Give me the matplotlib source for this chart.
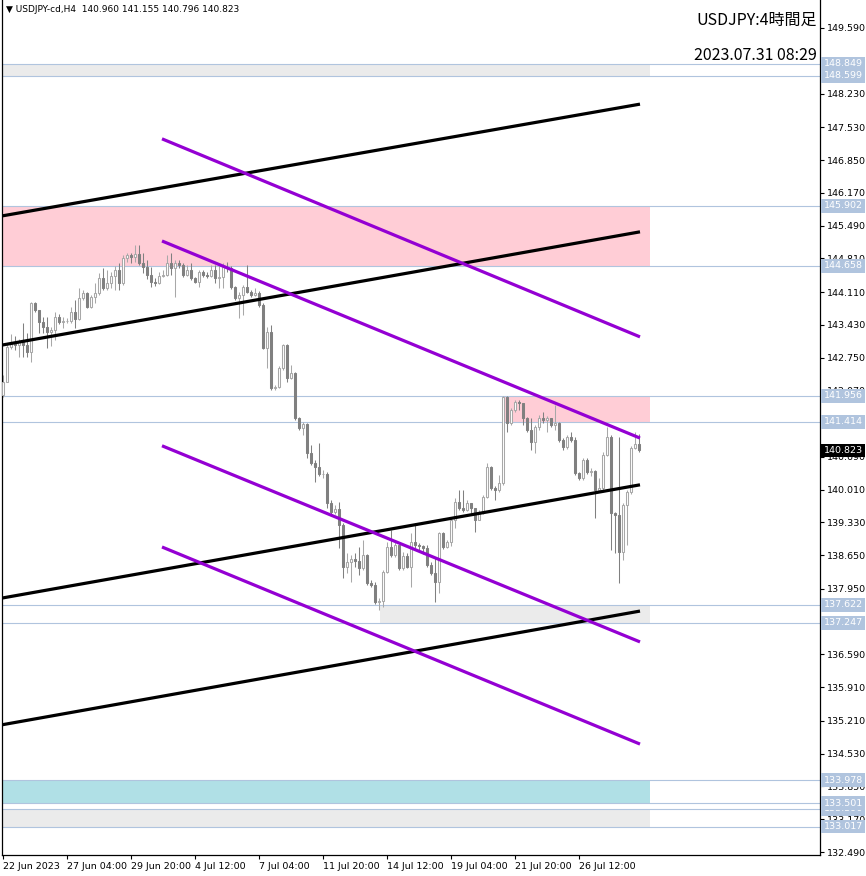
import matplotlib
matplotlib.use("Agg")
import matplotlib.pyplot as plt

# --- chart data (USDJPY H4) ---
header_text = "\u25bc USDJPY-cd,H4  140.960 141.155 140.796 140.823"
title_text = "USDJPY:4時間足"
stamp_text = "2023.07.31 08:29"

first_open = 141.97
closes = [142.24, 142.97, 143.07, 143.01, 143.07, 143.01, 142.87, 143.88, 143.74, 143.49,
          143.39, 143.28, 143.32, 143.59, 143.49, 143.51, 143.51, 143.70, 143.55, 143.99,
          144.09, 143.80, 144.01, 144.09, 144.40, 144.19, 144.30, 144.44, 144.57, 144.30,
          144.82, 144.88, 144.84, 144.90, 144.71, 144.63, 144.46, 144.32, 144.30, 144.44,
          144.46, 144.71, 144.61, 144.71, 144.67, 144.46, 144.57, 144.40, 144.32, 144.53,
          144.46, 144.44, 144.57, 144.40, 144.42, 144.63, 144.61, 144.22, 143.99, 144.05,
          144.22, 144.11, 144.05, 144.09, 143.84, 142.95, 143.28, 142.12, 142.14, 142.53,
          143.01, 142.33, 142.43, 141.50, 141.29, 141.37, 140.77, 140.56, 140.48, 140.34,
          140.34, 139.73, 139.55, 139.61, 139.28, 138.41, 138.51, 138.57, 138.53, 138.38,
          138.65, 138.07, 138.03, 137.68, 137.70, 138.30, 138.82, 138.65, 138.86, 138.38,
          138.63, 138.41, 138.92, 138.86, 138.84, 138.80, 138.45, 138.28, 138.09, 139.11,
          138.82, 138.92, 139.38, 139.75, 139.63, 139.59, 139.73, 139.63, 139.38, 139.55,
          139.86, 140.48, 140.04, 140.00, 140.15, 141.93, 141.39, 141.66, 141.83, 141.81,
          141.50, 141.25, 141.00, 141.31, 141.50, 141.46, 141.50, 141.35, 141.39, 141.04,
          140.90, 141.10, 141.04, 140.36, 140.25, 140.63, 140.38, 140.40, 140.00, 140.04,
          140.73, 141.10, 139.53, 139.48, 138.72, 139.69, 139.96, 140.87, 140.96, 140.823]
highs = [142.39, 143.05, 143.24, 143.20, 143.14, 143.47, 143.26, 143.90, 143.90, 143.70,
         143.59, 143.59, 143.39, 143.70, 143.66, 143.59, 143.57, 143.80, 143.95, 144.19,
         144.15, 144.11, 144.05, 144.30, 144.51, 144.61, 144.57, 144.53, 144.65, 144.71,
         144.88, 144.92, 144.92, 145.09, 145.09, 144.92, 144.78, 144.63, 144.40, 144.53,
         144.57, 144.88, 144.92, 144.78, 144.78, 144.71, 144.67, 144.71, 144.42, 144.57,
         144.57, 144.53, 144.67, 144.67, 144.67, 144.71, 144.73, 144.65, 144.24, 144.11,
         144.26, 144.67, 144.15, 144.19, 144.13, 143.88, 143.39, 143.43, 142.18, 142.58,
         143.03, 143.03, 142.60, 142.45, 141.52, 141.41, 141.39, 140.94, 140.63, 140.98,
         140.42, 140.38, 139.80, 139.69, 139.75, 139.32, 138.70, 138.65, 138.70, 138.82,
         138.97, 138.67, 138.14, 138.09, 137.76, 138.34, 138.92, 139.17, 138.97, 138.82,
         138.72, 138.70, 139.11, 139.32, 138.90, 138.86, 138.86, 138.51, 138.61, 139.13,
         139.13, 138.97, 139.42, 139.84, 140.00, 140.00, 139.80, 139.69, 139.59, 139.59,
         139.90, 140.56, 140.50, 140.09, 140.31, 141.95, 141.95, 141.70, 141.87, 141.87,
         141.77, 141.52, 141.50, 141.35, 141.56, 141.62, 141.54, 141.50, 141.77, 141.41,
         141.08, 141.14, 141.21, 141.10, 140.38, 140.67, 140.67, 140.45, 140.42, 140.25,
         140.79, 141.31, 141.14, 139.55, 141.10, 139.73, 140.00, 140.92, 141.21, 141.155]
lows = [141.93, 142.24, 142.93, 142.91, 142.76, 142.76, 142.76, 142.66, 143.70, 143.26,
        143.26, 142.95, 142.99, 143.12, 143.45, 143.36, 143.47, 143.47, 143.36, 143.53,
        143.95, 143.78, 143.78, 143.88, 144.05, 144.15, 144.15, 144.19, 144.15, 144.15,
        144.26, 144.73, 144.71, 144.73, 144.67, 144.51, 144.38, 144.22, 144.24, 144.28,
        144.42, 144.44, 144.46, 144.01, 144.61, 144.42, 144.44, 144.36, 144.30, 144.22,
        144.42, 144.40, 144.42, 144.30, 144.19, 144.19, 144.53, 144.17, 143.95, 143.57,
        143.63, 144.09, 144.01, 144.03, 143.80, 142.93, 142.53, 142.08, 142.08, 142.12,
        142.49, 142.24, 142.31, 141.46, 141.25, 141.14, 140.67, 140.52, 140.17, 140.29,
        140.25, 139.63, 139.51, 139.51, 138.80, 138.18, 138.28, 138.09, 138.41, 138.24,
        138.34, 138.03, 137.99, 137.64, 137.51, 137.58, 138.28, 138.61, 138.61, 138.34,
        138.34, 138.38, 137.99, 138.80, 138.72, 138.67, 138.41, 138.24, 137.68, 137.87,
        138.78, 138.80, 138.84, 139.21, 139.59, 139.55, 139.57, 139.53, 139.13, 139.38,
        139.51, 139.84, 140.00, 139.80, 139.96, 140.11, 141.21, 141.35, 141.62, 141.66,
        141.35, 141.21, 140.83, 140.77, 141.25, 141.39, 141.21, 141.31, 141.25, 141.00,
        140.83, 140.85, 141.00, 140.31, 140.21, 140.21, 140.34, 140.29, 139.42, 139.98,
        140.00, 140.71, 138.76, 138.70, 138.07, 138.55, 138.86, 139.92, 140.85, 140.796]
opens = [first_open] + closes[:-1]
bars = list(range(len(closes)))

x_tick_bars = [0, 16, 32, 48, 64, 80, 96, 112, 128, 144]
x_tick_labels = ["22 Jun 2023", "27 Jun 04:00", "29 Jun 20:00", "4 Jul 12:00", "7 Jul 04:00",
                 "11 Jul 20:00", "14 Jul 12:00", "19 Jul 04:00", "21 Jul 20:00", "26 Jul 12:00"]
# 148.910 and 137.270 sit fully under the level boxes, so they're left out
y_ticks = [149.59, 148.23, 147.53, 146.85, 146.17, 145.49, 144.81, 144.11, 143.43,
           142.75, 142.07, 141.39, 140.69, 140.01, 139.33, 138.65, 137.95, 136.59,
           135.91, 135.21, 134.53, 133.85, 133.17, 132.49]

# rectangles (zones)
zone_start = [-1, -1, 125, 94.25, -1, -1]
zone_end = 161.75
zone_top = [148.849, 145.902, 141.956, 137.622, 133.978, 133.390]
zone_bottom = [148.599, 144.658, 141.414, 137.247, 133.501, 133.017]
zone_colors = ["#ebebeb", "#ffcdd6", "#ffcdd6", "#ebebeb", "#b0e0e6", "#ebebeb"]

current_price = 140.823

# trend lines (bar index, price)
black_x = [-0.25, 159.25]
black_start = [145.69, 143.01, 137.76, 135.13]
black_end = [148.01, 145.36, 140.11, 137.49]
purple_x = [39.75, 159.25]
purple_start = [147.29, 145.17, 140.92, 138.82]
purple_end = [143.18, 141.08, 136.85, 134.73]

# --- figure ---
small_font = "DejaVu Sans"
fig = plt.figure(figsize=(8.66, 8.76), dpi=100)
ax = fig.add_axes([2 / 866, 21 / 876, 818 / 866, 855 / 876])
ax.set_xlim(-0.25, 204.25)
ax.set_ylim(132.428, 150.171)

for s, t, b, c in zip(zone_start, zone_top, zone_bottom, zone_colors):
    ax.fill_between([s, zone_end], [b, b], [t, t], color=c, lw=0, zorder=1)
for lvl in zone_top + zone_bottom:
    ax.axhline(lvl, color="#b0c4de", lw=0.8, zorder=1.5)

# candles
bull_col = "#a8a8a8"
bear_col = "#808080"
for i, o, h, l, c in zip(bars, opens, highs, lows, closes):
    col = bull_col if c >= o else bear_col
    ax.vlines(i, l, h, color=col, lw=0.75, zorder=2)
    face = "white" if c >= o else bear_col
    ax.bar(i, max(abs(c - o), 0.004), bottom=min(o, c), width=0.55,
           facecolor=face, edgecolor=col, linewidth=0.75, zorder=3)

for y0, y1 in zip(black_start, black_end):
    ax.plot(black_x, [y0, y1], color="black", lw=2.3, zorder=4, solid_capstyle="butt")
for y0, y1 in zip(purple_start, purple_end):
    ax.plot(purple_x, [y0, y1], color="#9400d3", lw=2.3, zorder=4, solid_capstyle="butt")

# axes styling
ax.spines["top"].set_visible(False)
for side in ["left", "bottom", "right"]:
    ax.spines[side].set_color("black")
    ax.spines[side].set_linewidth(0.9)
ax.yaxis.tick_right()
ax.set_yticks(y_ticks)
ax.set_yticklabels(["%.3f" % v for v in y_ticks])
ax.tick_params(axis="y", direction="out", length=3, width=0.8, pad=2,
               labelsize=6.8, labelcolor="black")
ax.set_xticks(x_tick_bars)
ax.set_xticklabels(x_tick_labels, ha="left")
ax.tick_params(axis="x", direction="out", length=3, width=0.8, pad=2, labelsize=6.8)
for lab in ax.get_xticklabels() + ax.get_yticklabels():
    lab.set_fontfamily(small_font)

# level labels on price scale
for lvl in zone_top + zone_bottom:
    ax.annotate("%.3f" % lvl, xy=(1, lvl), xycoords=("axes fraction", "data"),
                xytext=(2.5, 0), textcoords="offset points", ha="left", va="center",
                fontsize=6.8, family=small_font, color="white", zorder=10,
                annotation_clip=False,
                bbox=dict(boxstyle="square,pad=0.25", fc="#b0c4de", ec="none"))
ax.annotate("%.3f" % current_price, xy=(1, current_price), xycoords=("axes fraction", "data"),
            xytext=(2.5, 0), textcoords="offset points", ha="left", va="center",
            fontsize=6.8, family=small_font, color="white", zorder=11,
            annotation_clip=False,
            bbox=dict(boxstyle="square,pad=0.25", fc="black", ec="none"))

# header texts
ax.text(4 / 818, 1 - 10 / 855, header_text, transform=ax.transAxes, ha="left", va="center",
        fontsize=6.5, family=small_font, color="black", zorder=12)
ax.text(815 / 818, 1 - 20 / 855, title_text, transform=ax.transAxes, ha="right", va="center",
        fontsize=11.5, family=["Noto Sans CJK JP", "DejaVu Sans"], color="black", zorder=12)
ax.text(815 / 818, 1 - 55 / 855, stamp_text, transform=ax.transAxes, ha="right", va="center",
        fontsize=11.5, family=["Noto Sans CJK JP", "DejaVu Sans"], color="black", zorder=12)

fig.savefig("out.png", dpi=100)
